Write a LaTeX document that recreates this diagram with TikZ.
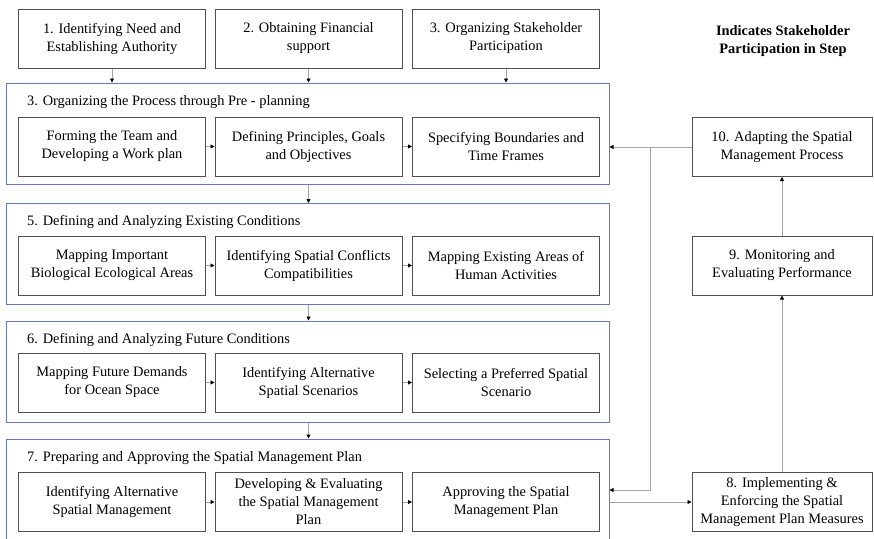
\documentclass[tikz,border=0pt]{standalone}
\usepackage{fontspec}
\setmainfont{Liberation Serif}
\usepackage{tikz}
\usetikzlibrary{arrows.meta,positioning,calc}
\definecolor{grpblue}{RGB}{104,122,190}
\definecolor{boxgray}{RGB}{80,80,80}
\definecolor{lngray}{RGB}{165,165,165}

\begin{document}
\begin{tikzpicture}[x=1pt, y=-1pt,
    box/.style={draw=boxgray, line width=1pt, minimum width=187pt, minimum height=59pt, align=center, inner sep=1pt,
        font=\fontsize{14.4}{18}\selectfont},
    rbox/.style={box, minimum width=180pt},
    grp/.style={draw=grpblue, line width=1pt, minimum width=603pt, minimum height=101pt, inner sep=0pt},
    ttl/.style={anchor=west, inner sep=0pt, font=\fontsize{14.4}{17}\selectfont},
    arr/.style={-{Triangle[length=4pt, width=4pt, color=black]}, draw=lngray, line width=0.8pt}
]
\useasboundingbox (0,0) rectangle (874,538);

% top steps
\node[box] (need) at (112,38.5) {1. Identifying Need and\\Establishing Authority};
\node[box] (fin) at (308.5,38.5) {2. Obtaining Financial\\support};
\node[box] (part) at (506,38.5) {3. Organizing Stakeholder\\Participation};
\node[font=\fontsize{14.4}{18}\selectfont\bfseries, align=center] (legend) at (783,41) {Indicates Stakeholder\\Participation in Step};

% group frames
\node[grp] (preplan) at (307.5,133.5) {};
\node[grp] (exist) at (307.5,254) {};
\node[grp] (future) at (307.5,371.5) {};
\node[grp] (plan) at (307.5,489.5) {};

\node[ttl] (preplanT) at (27,102) {3. Organizing the Process through Pre - planning};
\node[ttl] (existT) at (27,222) {5. Defining and Analyzing Existing Conditions};
\node[ttl] (futureT) at (27,340) {6. Defining and Analyzing Future Conditions};
\node[ttl] (planT) at (27,458) {7. Preparing and Approving the Spatial Management Plan};

% inner steps
\node[box] (team) at (112,146.5) {Forming the Team and\\Developing a Work plan};
\node[box] (goals) at (308.5,146.5) {Defining Principles, Goals\\and Objectives};
\node[box] (bound) at (506,146.5) {Specifying Boundaries and\\Time Frames};

\node[box] (bio) at (112,265.5) {Mapping Important\\Biological Ecological Areas};
\node[box] (confl) at (308.5,265.5) {Identifying Spatial Conflicts\\Compatibilities};
\node[box] (human) at (506,265.5) {Mapping Existing Areas of\\Human Activities};

\node[box] (demand) at (112,382.5) {Mapping Future Demands\\for Ocean Space};
\node[box] (scen) at (308.5,382.5) {Identifying Alternative\\Spatial Scenarios};
\node[box] (select) at (506,382.5) {Selecting a Preferred Spatial\\Scenario};

\node[box] (altmgmt) at (112,502) {Identifying Alternative\\Spatial Management};
\node[box] (evalp) at (308.5,502) {Developing \& Evaluating\\the Spatial Management\\Plan};
\node[box] (approve) at (506,502) {Approving the Spatial\\Management Plan};

% right column
\node[rbox] (adapt) at (782,147) {10. Adapting the Spatial\\Management Process};
\node[rbox] (monit) at (782,265.5) {9. Monitoring and\\Evaluating Performance};
\node[rbox] (impl) at (782,502) {8. Implementing \&\\Enforcing the Spatial\\Management Plan Measures};

% flow
\foreach \s in {need,fin,part}
    \draw[arr] (\s.south) -- (\s.south |- preplan.north);
\draw[arr] (preplan.south -| goals) -- (exist.north -| goals);
\draw[arr] (exist.south -| goals) -- (future.north -| goals);
\draw[arr] (future.south -| goals) -- (plan.north -| goals);

\draw[arr] (team) -- (goals);
\draw[arr] (goals) -- (bound);
\draw[arr] (bio) -- (confl);
\draw[arr] (confl) -- (human);
\draw[arr] (demand) -- (scen);
\draw[arr] (scen) -- (select);
\draw[arr] (altmgmt) -- (evalp);
\draw[arr] (evalp) -- (approve);

% feedback loop
\coordinate (split) at (650,147);
\draw[arr] (plan.east |- impl.west) -- (impl.west);
\draw[arr] (impl) -- (monit);
\draw[arr] (monit) -- (adapt);
\draw[arr] (adapt.west) -- (adapt.west -| preplan.east);
\draw[arr] (split) -- (split |- 0,490) -- (plan.east |- 0,490);
\end{tikzpicture}
\end{document}
